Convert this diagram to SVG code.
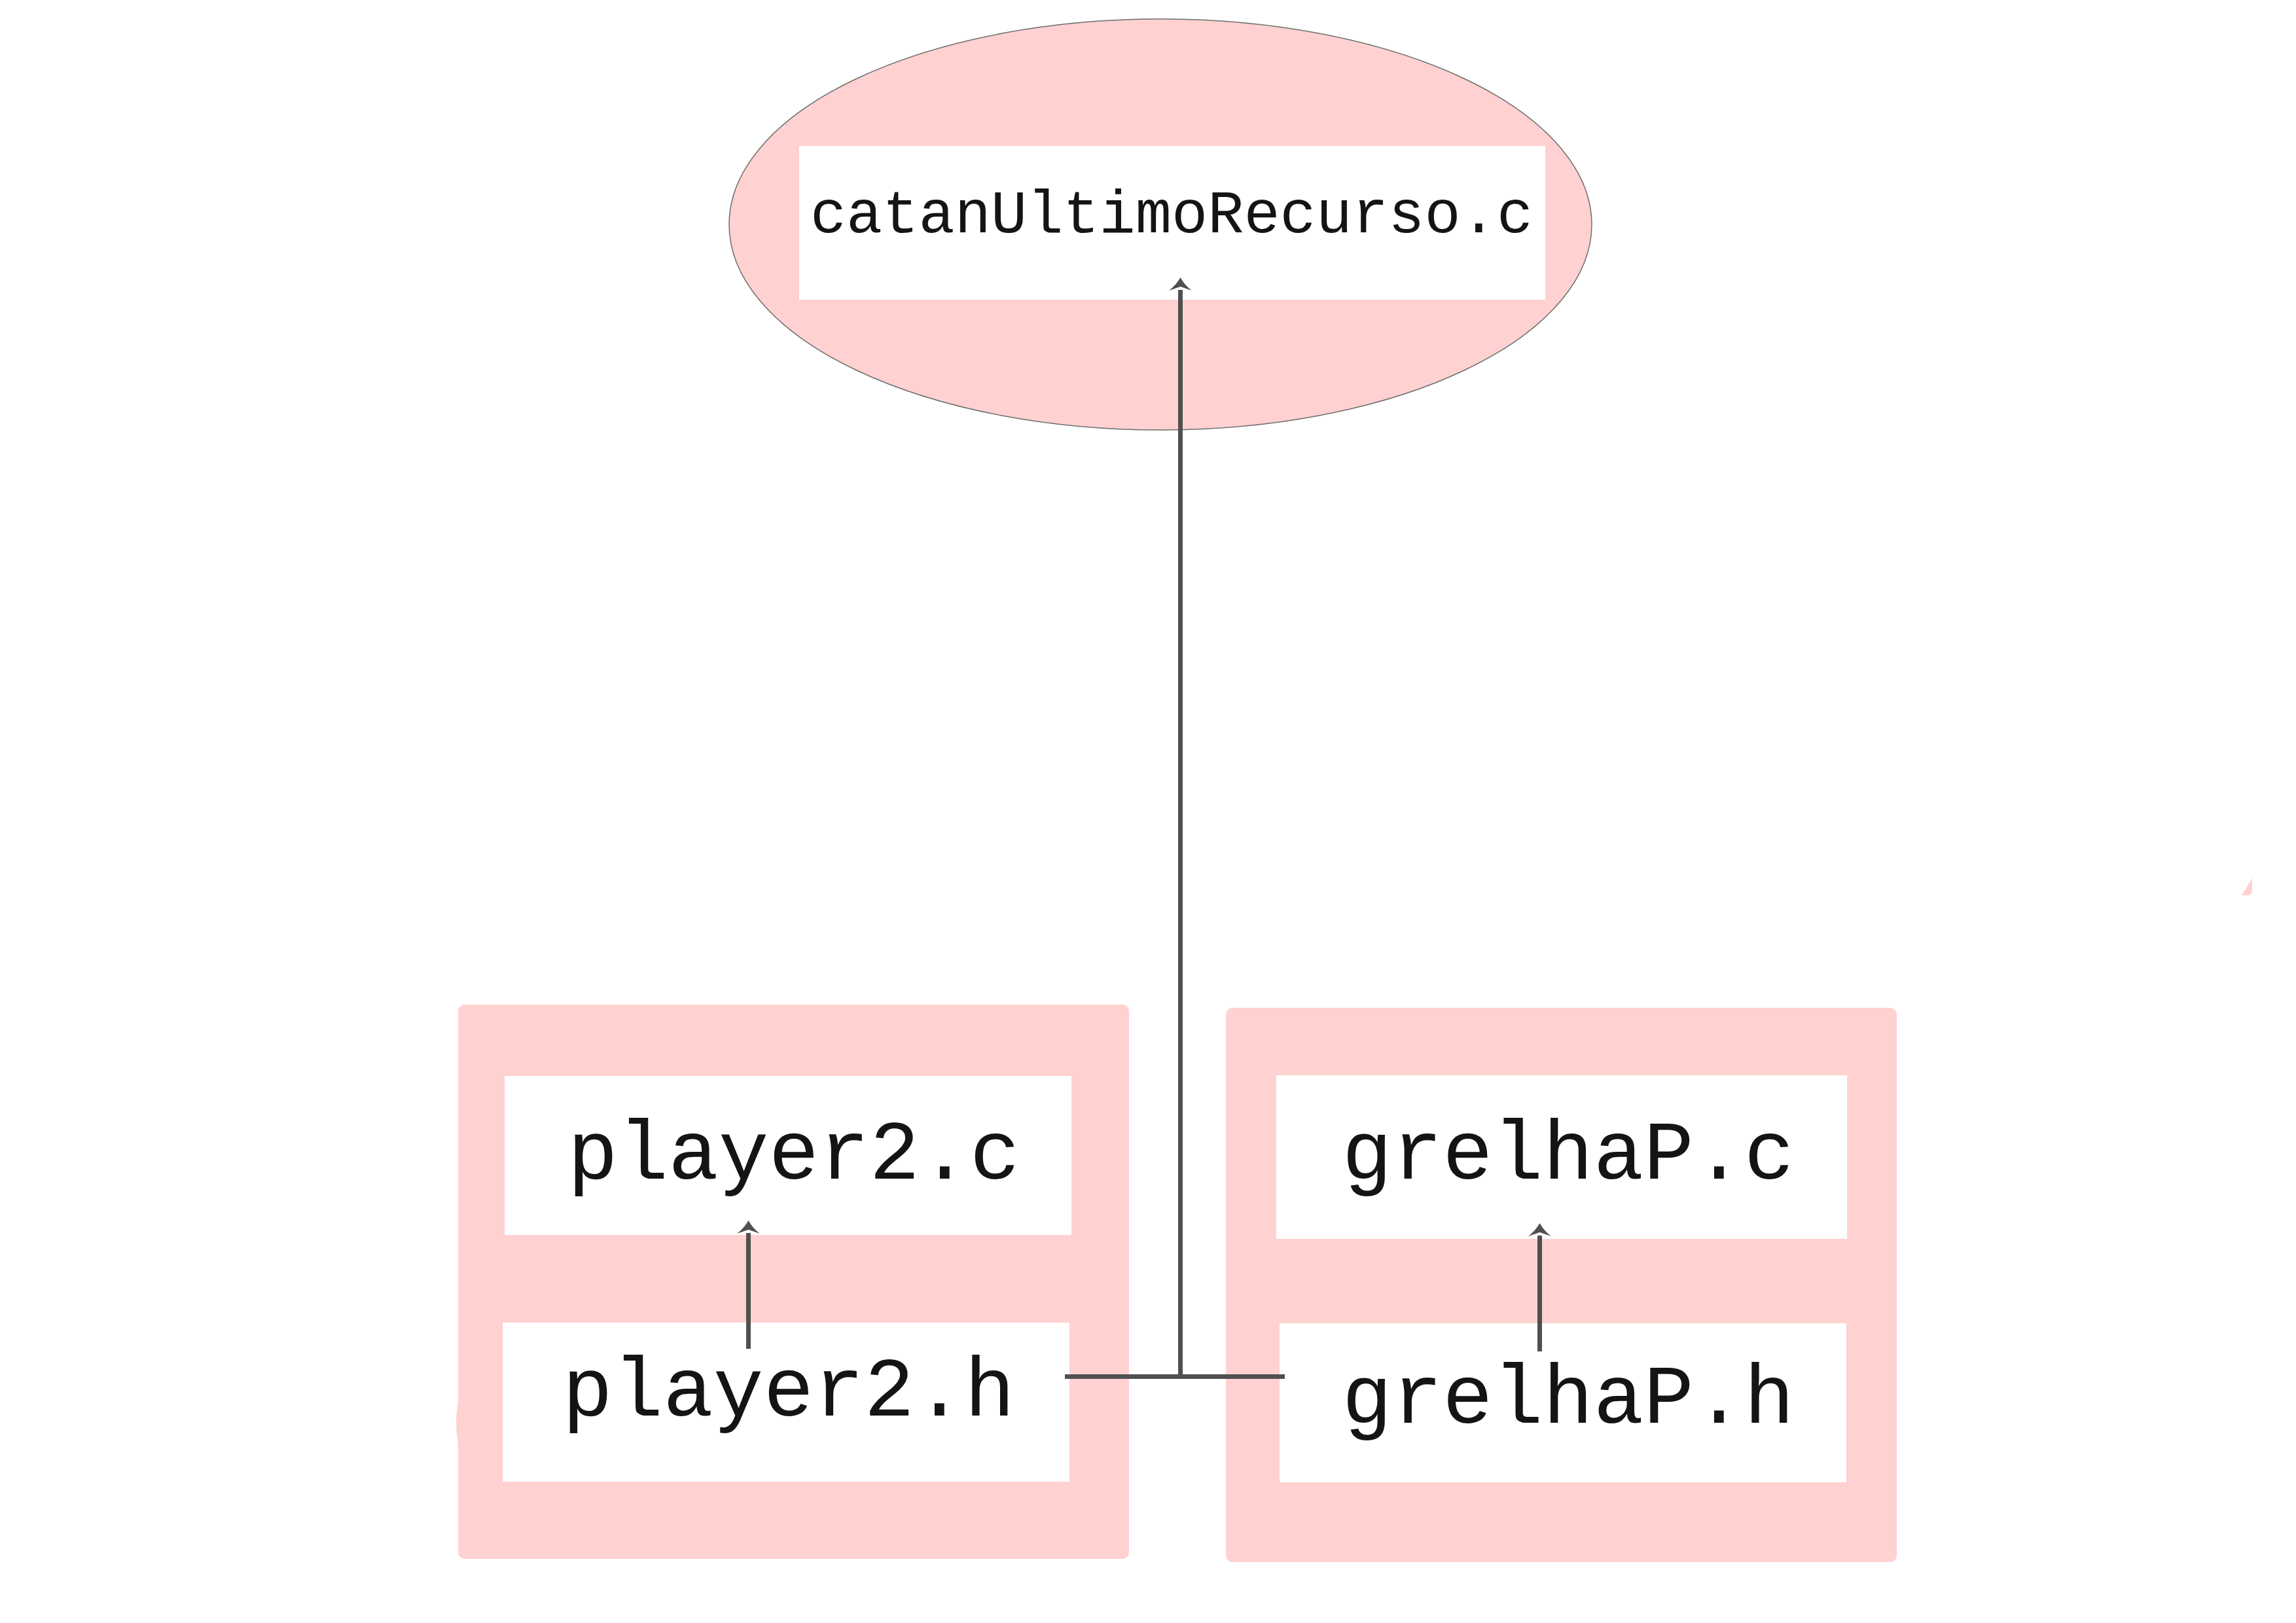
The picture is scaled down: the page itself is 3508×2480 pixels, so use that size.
<svg xmlns="http://www.w3.org/2000/svg" width="3508" height="2480" viewBox="0 0 3508 2480">
  <style>
    .pink { fill: #FFD1D1; }
    .box { fill: #FFFFFF; }
    .label { font-family: "Courier New", "Nimbus Mono PS", "Liberation Mono", monospace; fill: #141414; text-anchor: middle; }
    .big { font-size: 128px; }
    .small { font-size: 92px; }
    .edge { fill: none; stroke: #505050; stroke-width: 7; }
  </style>
  <defs>
    <marker id="arrow" markerUnits="userSpaceOnUse" markerWidth="28" markerHeight="44" viewBox="-4 -22 28 44" refX="0" refY="0" orient="auto">
      <path d="M19,0 C14,-3 5,-9 -1,-17.5 L5,0 L-1,17.5 C5,9 14,3 19,0 Z" fill="#505050"/>
    </marker>
  </defs>
  <rect width="3508" height="2480" fill="#FFFFFF"/>

  <!-- stray fragments -->
  <g id="fragments">
    <ellipse class="pink" cx="800" cy="2173" rx="103" ry="138"/>
    <path class="pink" d="M3441,1342 L3441,1360 Q3441,1368 3433,1368 L3425,1368 Z"/>
  </g>

  <g id="catanUltimoRecurso">
    <ellipse class="pink" cx="1773" cy="343" rx="659" ry="314" stroke="#6E6E6E" stroke-width="1.5"/>
    <rect class="box" x="1221" y="223" width="1140" height="235"/>
    <text class="label small" x="1790" y="355">catanUltimoRecurso.c</text>
  </g>

  <g id="player2-group">
    <rect class="pink" x="700" y="1535" width="1025" height="847" rx="10" ry="10"/>
    <g id="player2c">
      <rect class="box" x="771" y="1644" width="866" height="243"/>
      <text class="label big" x="1213" y="1801">player2.c</text>
    </g>
    <g id="player2h">
      <rect class="box" x="768" y="2021" width="866" height="243"/>
      <text class="label big" x="1205" y="2163">player2.h</text>
    </g>
  </g>

  <g id="grelhaP-group">
    <rect class="pink" x="1873" y="1540" width="1025" height="847" rx="10" ry="10"/>
    <g id="grelhaPc">
      <rect class="box" x="1950" y="1643" width="872" height="250"/>
      <text class="label big" x="2396" y="1801">grelhaP.c</text>
    </g>
    <g id="grelhaPh">
      <rect class="box" x="1955" y="2022" width="866" height="243"/>
      <text class="label big" x="2396" y="2174">grelhaP.h</text>
    </g>
  </g>

  <g id="connectors">
    <path class="edge" d="M1143.5,2061 V1884" marker-end="url(#arrow)"/>
    <path class="edge" d="M2352.5,2065 V1888" marker-end="url(#arrow)"/>
    <path class="edge" d="M1627,2103.5 H1963"/>
    <path class="edge" d="M1803.5,2103.5 V443" marker-end="url(#arrow)"/>
  </g>
</svg>
